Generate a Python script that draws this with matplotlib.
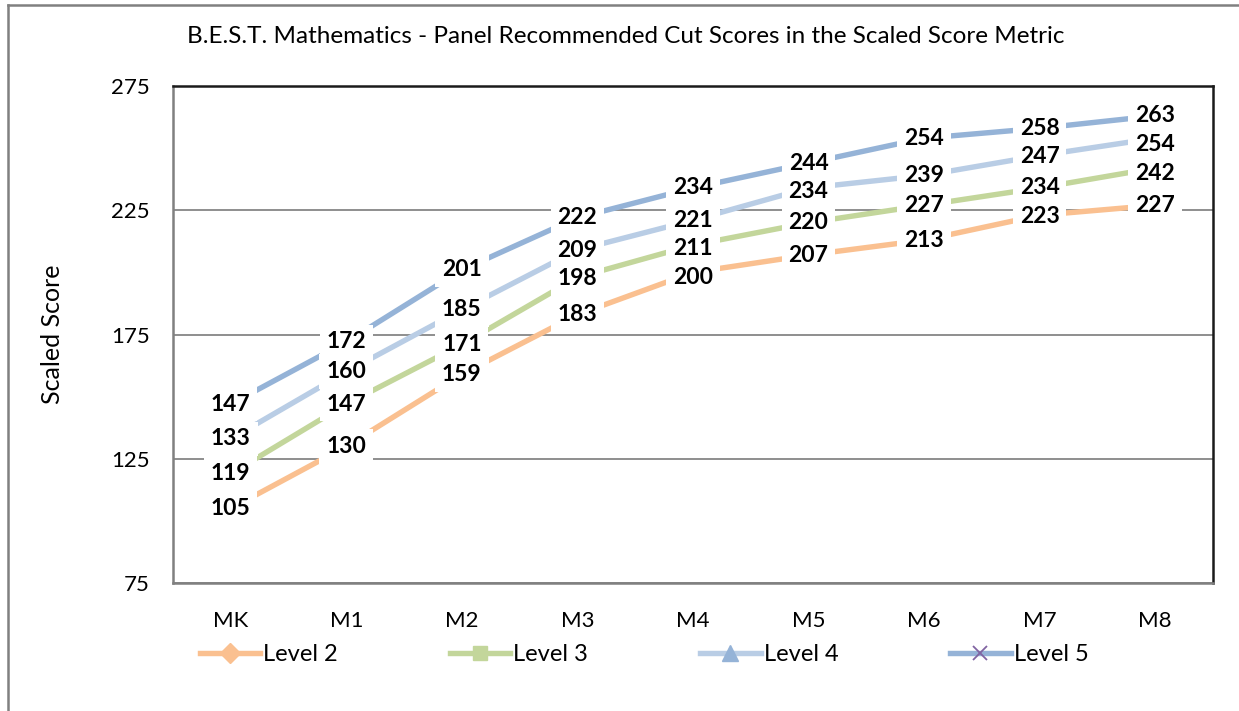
#!/usr/bin/env python3

import matplotlib
matplotlib.use('Agg')
from matplotlib.pyplot import subplots
from matplotlib.lines import Line2D

grades = ['MK', 'M1', 'M2', 'M3', 'M4', 'M5', 'M6', 'M7', 'M8']
level2 = [105, 130, 159, 183, 200, 207, 213, 223, 227]
level3 = [119, 147, 171, 198, 211, 220, 227, 234, 242]
level4 = [133, 160, 185, 209, 221, 234, 239, 247, 254]
level5 = [147, 172, 201, 222, 234, 244, 254, 258, 263]
series_names = ['Level 2', 'Level 3', 'Level 4', 'Level 5']
yticks = [75, 125, 175, 225, 275]

FONT = 'Lato'

styles = [
    dict(color='#FAC090', marker='D', mfc='#FAC090', mec='#FAC090', ms=10),
    dict(color='#C3D69B', marker='s', mfc='#C3D69B', mec='#C3D69B', ms=10),
    dict(color='#B9CDE5', marker='^', mfc='#95B3D7', mec='#95B3D7', ms=11),
    dict(color='#95B3D7', marker='x', mfc='#8064A2', mec='#8064A2', ms=10, mew=1.3),
]

fig, ax = subplots(figsize=(12.39, 7.11), dpi=100)
fig.subplots_adjust(left=0.1396, right=0.979, bottom=0.18, top=0.879)

x = list(range(len(grades)))
all_series = [level2, level3, level4, level5]
handles = []
for vals, name, st in zip(all_series, series_names, styles):
    h, = ax.plot(x, vals, lw=3.9, label=name, zorder=2, **st)
    handles.append(h)

# data labels, placed top-down; push a label down when it would collide
# with the one above it
min_sep = 11.5
for xi in x:
    prev = None
    for vals in reversed(all_series):
        v = vals[xi]
        pos = v
        if prev is not None and prev - pos < min_sep:
            pos = prev - min_sep
        prev = pos
        ax.text(xi, pos, str(v), ha='center', va='center', fontsize=16.5,
                fontweight='bold', family=FONT, color='black', zorder=4,
                clip_on=False,
                bbox=dict(boxstyle='square,pad=0.3', fc='white', ec='none'))

ax.set_xlim(-0.5, len(grades) - 0.5)
ax.set_ylim(75, 275)
ax.set_xticks(x)
ax.set_xticklabels(grades, family=FONT, fontsize=16)
ax.set_yticks(yticks)
ax.set_yticklabels([str(t) for t in yticks], family=FONT, fontsize=16)
ax.tick_params(length=0)
ax.tick_params(axis='x', pad=20)
ax.tick_params(axis='y', pad=16.5)
ax.yaxis.grid(True, color='#868686', lw=1.3, zorder=1)
ax.set_axisbelow(True)

for side in ['left', 'bottom']:
    ax.spines[side].set_color('#808080')
    ax.spines[side].set_linewidth(1.8)
for side in ['top', 'right']:
    ax.spines[side].set_color('#1a1a1a')
    ax.spines[side].set_linewidth(1.8)

ax.set_ylabel('Scaled Score', family=FONT, fontsize=18, labelpad=34)
fig.text(0.505, 0.948, 'B.E.S.T. Mathematics - Panel Recommended Cut Scores in the Scaled Score Metric',
         ha='center', va='center', family=FONT, fontsize=17.5)

leg = fig.legend(handles=handles, loc='center left', bbox_to_anchor=(0.1614, 0.0788),
                 ncol=4, frameon=False, handlelength=2.55, handletextpad=0.13,
                 columnspacing=4.75, borderpad=0, borderaxespad=0,
                 prop=dict(family=FONT, size=17))

# outer chart border (left and top edges visible)
fig.add_artist(Line2D([0.0065, 0.0065], [0, 0.9935], color='#808080', lw=1.8,
                      transform=fig.transFigure))
fig.add_artist(Line2D([0.0065, 1], [0.9935, 0.9935], color='#808080', lw=1.8,
                      transform=fig.transFigure))

fig.savefig('out.png', dpi=100)
